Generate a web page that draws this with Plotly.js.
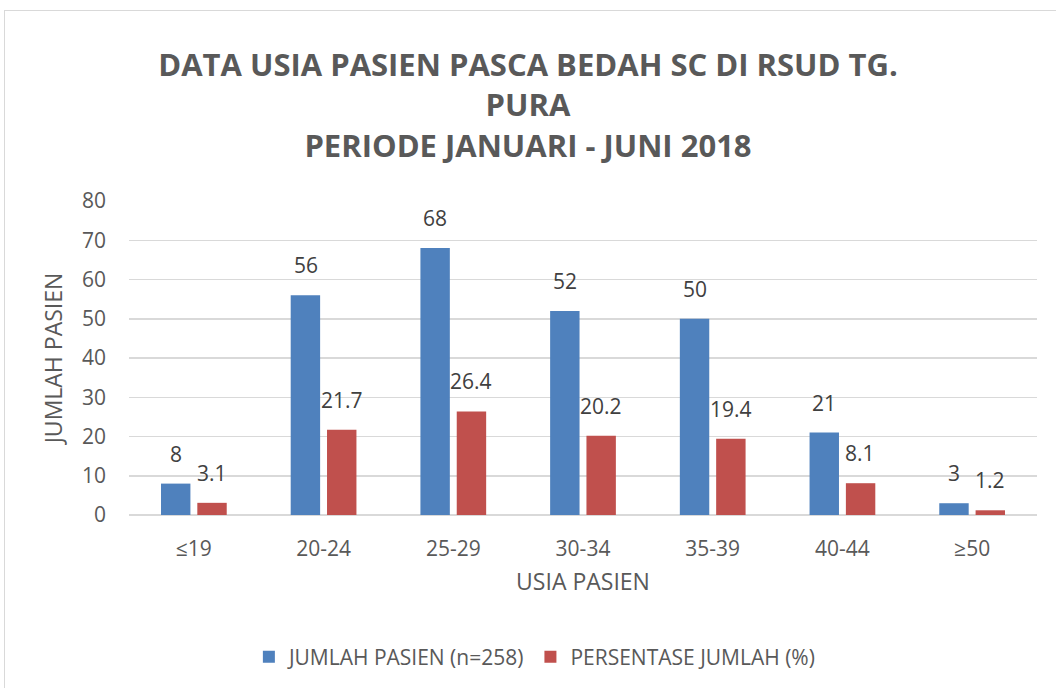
<!DOCTYPE html>
<html>
<head>
<meta charset="utf-8">
<script src="https://cdn.plot.ly/plotly-3.0.1.min.js"></script>
<style>
  html, body { margin: 0; padding: 0; background: #ffffff; }
  #frame { position: absolute; left: 4px; top: 10px; width: 1060px; height: 690px; border: 1px solid #d9d9d9; box-sizing: border-box; }
  #chart { position: absolute; left: 0; top: 0; width: 1056px; height: 688px; }
</style>
</head>
<body>
<div id="frame"></div>
<div id="chart"></div>
<script>
const categories = ["≤19", "20-24", "25-29", "30-34", "35-39", "40-44", "≥50"];
const jumlahPasien = [8, 56, 68, 52, 50, 21, 3];
const persentase = [3.1, 21.7, 26.4, 20.2, 19.4, 8.1, 1.2];
const seriesNames = ["JUMLAH PASIEN (n=258)", "PERSENTASE JUMLAH (%)"];
const titleLines = ["DATA USIA PASIEN PASCA BEDAH SC DI RSUD TG.", "PURA", "PERIODE JANUARI - JUNI 2018"];
const yTicks = [0, 10, 20, 30, 40, 50, 60, 70, 80];

const FONT = "Open Sans, Noto Sans, sans-serif";
const BLUE = "#4F81BD", RED = "#C0504D";

const traces = [
  { type: "bar", name: seriesNames[0], x: categories, y: jumlahPasien,
    marker: { color: BLUE }, hoverinfo: "x+y" },
  { type: "bar", name: seriesNames[1], x: categories, y: persentase,
    marker: { color: RED }, hoverinfo: "x+y" }
];

const annotations = [];
const seriesList = [jumlahPasien, persentase];
const shifts = [-18, 18];
seriesList.forEach((vals, s) => {
  vals.forEach((v, i) => {
    annotations.push({
      x: categories[i], y: v, xref: "x", yref: "y",
      text: String(v), showarrow: false, yanchor: "bottom",
      xshift: shifts[s], yshift: 14,
      font: { family: FONT, size: 21, color: "#404040" }
    });
  });
});

const layout = {
  width: 1056, height: 688,
  paper_bgcolor: "rgba(0,0,0,0)", plot_bgcolor: "rgba(0,0,0,0)",
  margin: { l: 129, r: 19, t: 201, b: 172 },
  font: { family: FONT, color: "#595959" },
  title: {
    text: titleLines.join("<br>"),
    x: 0.5, xanchor: "center", y: 0.8895, yanchor: "middle", yref: "container",
    font: { family: FONT, size: 31, color: "#595959", weight: "bold" }
  },
  barmode: "group", bargap: 0.44, bargroupgap: 0.19,
  xaxis: {
    type: "category", showgrid: false, zeroline: false, showline: false,
    ticks: "", ticklabelstandoff: 19,
    tickfont: { family: FONT, size: 21, color: "#595959" },
    title: { text: "USIA PASIEN", standoff: 12, font: { family: FONT, size: 23, color: "#595959" } }
  },
  yaxis: {
    range: [0, 80], tickvals: yTicks, showgrid: true, gridcolor: "#d9d9d9", gridwidth: 1.5,
    zeroline: true, zerolinecolor: "#d9d9d9", zerolinewidth: 1.5, showline: false,
    ticks: "", ticklabelstandoff: 22,
    tickfont: { family: FONT, size: 21, color: "#595959" },
    title: { text: "JUMLAH PASIEN", standoff: 12, font: { family: FONT, size: 23, color: "#595959" } }
  },
  legend: {
    orientation: "h", x: 0.447, xanchor: "center", y: -0.448, yanchor: "middle",
    font: { family: FONT, size: 21, color: "#595959" }, itemwidth: 30, tracegroupgap: 0
  },
  annotations: annotations,
  showlegend: true
};

Plotly.newPlot("chart", traces, layout, { displayModeBar: false, staticPlot: true });
</script>
</body>
</html>
